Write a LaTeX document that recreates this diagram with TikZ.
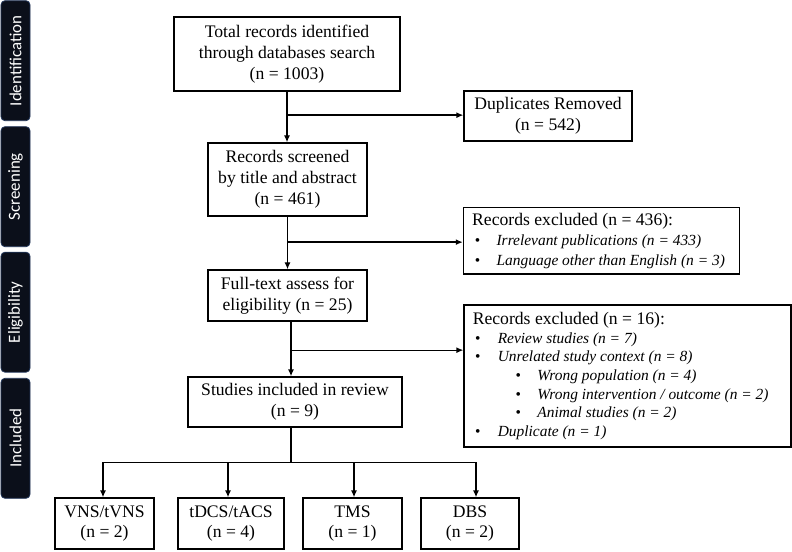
\documentclass[tikz,border=0pt]{standalone}
\usepackage{fontspec}
\setmainfont{Liberation Serif}
\newfontfamily\barfont{Carlito}
\usetikzlibrary{arrows.meta,calc}
\definecolor{barfill}{HTML}{0B0F1A}
\definecolor{barline}{HTML}{22365A}
\newcommand\exitemA[1]{\mbox{\fontsize{15.5}{20}\selectfont\makebox[24.4bp][l]{\hspace{2.7bp}\textbullet}\textit{#1}}}
\newcommand\exitemB[1]{\mbox{\fontsize{15.5}{18.6}\selectfont\makebox[25bp][l]{\hspace{2.3bp}\textbullet}\textit{#1}}}
\newcommand\exsubB[1]{\mbox{\fontsize{15.5}{18.6}\selectfont\makebox[64.6bp][l]{\hspace{42.8bp}\textbullet}\textit{#1}}}
\begin{document}
\begin{tikzpicture}[x=1bp,y=-1bp,
  box/.style={draw,line width=1.3bp,inner sep=0pt,align=center,
    font=\fontsize{17.7}{21}\selectfont},
  exbox/.style={draw,line width=1.3bp,inner xsep=8.8bp,inner ysep=0pt,align=flush left},
  phase/.style={draw=barline,fill=barfill,line width=0.8bp,rounded corners=4bp,
    minimum width=120bp,minimum height=29bp,inner sep=0pt,text=white,
    font=\barfont\fontsize{17}{20}\selectfont,rotate=90},
  arr/.style={line width=1.3bp,-{Latex[length=7bp,width=6bp]}},
  ln/.style={line width=1.3bp,line cap=rect}]
\useasboundingbox (0,0) rectangle (792,552);

% phase bars
\node[phase] (pid) at (15.5,60.7) {Identification};
\node[phase] (psc) at (15.5,186.7) {Screening};
\node[phase] (pel) at (15.5,312.2) {Eligibility};
\node[phase] (pin) at (15.5,438.3) {Included};

% main boxes
\node[box,minimum width=226bp,minimum height=74bp] (top) at (287,54)
  {Total records identified\\through databases search\\(n = 1003)};
\node[box,minimum width=168bp,minimum height=50bp] (dup) at (548,116)
  {Duplicates Removed\\(n = 542)};
\node[box,minimum width=159bp,minimum height=73bp] (scr) at (287.5,179.5)
  {Records screened\\by title and abstract\\(n = 461)};
\node[box,minimum width=159bp,minimum height=51bp] (ft) at (287.5,295.5)
  {Full-text assess for\\eligibility (n = 25)};
\node[box,minimum width=214bp,minimum height=50bp] (inc) at (295,402)
  {Studies included in review\\(n = 9)};
\node[box,minimum width=99bp,minimum height=51bp] (vns) at (104.5,523.5)
  {VNS/tVNS\\(n = 2)};
\node[box,minimum width=106bp,minimum height=51bp] (tdcs) at (231,523.5)
  {tDCS/tACS\\(n = 4)};
\node[box,minimum width=99bp,minimum height=51bp] (tms) at (352.5,523.5)
  {TMS\\(n = 1)};
\node[box,minimum width=98bp,minimum height=51bp] (dbs) at (470,523.5)
  {DBS\\(n = 2)};

% exclusion boxes
\node[exbox,text width=258.4bp,minimum height=66.3bp,
  font=\fontsize{17.7}{20}\selectfont] (ex1) at (601.4,240.85)
  {\mbox{Records excluded (n = 436):}\\
   \exitemA{Irrelevant publications (n = 433)}\\
   \exitemA{Language other than English (n = 3)}};
\node[exbox,text width=309.4bp,minimum height=142bp,
  font=\fontsize{17.7}{18.6}\selectfont] (ex2) at (627.5,376)
  {\mbox{Records excluded (n = 16):}\\
   \exitemB{Review studies (n = 7)}\\
   \exitemB{Unrelated study context (n = 8)}\\
   \exsubB{Wrong population (n = 4)}\\
   \exsubB{Wrong intervention / outcome (n = 2)}\\
   \exsubB{Animal studies (n = 2)}\\
   \exitemB{Duplicate (n = 1)}};

% connectors
\draw[arr] (top.south) -- (top.south |- scr.north);
\coordinate (c1) at ($(top.south)+(0,23.5)$);
\draw[arr] (c1) -- (c1 -| dup.west);
\draw[arr] (scr.south) -- (scr.south |- ft.north);
\coordinate (c2) at ($(scr.south)+(0,25.5)$);
\draw[arr] (c2) -- (c2 -| ex1.west);
\coordinate (c3) at ($(ft.south)+(3.5,0)$);
\draw[arr] (c3) -- (c3 |- inc.north);
\coordinate (c3b) at ($(c3)+(0,28.5)$);
\draw[arr] (c3b) -- (c3b -| ex2.west);
\coordinate (c4) at ($(inc.south)+(-4,0)$);
\coordinate (c4b) at ($(c4)+(0,34.5)$);
\draw[ln] (c4) -- (c4b);
\draw[ln] ($(vns.north |- c4b)+(-1.5,0)$) -- ($(dbs.north |- c4b)+(6,0)$);
\foreach \n/\dx in {vns/-1.5,tdcs/-3,tms/1.5,dbs/6}
  \draw[arr] ($(\n.north |- c4b)+(\dx,0)$) -- ($(\n.north)+(\dx,0)$);
\end{tikzpicture}
\end{document}
